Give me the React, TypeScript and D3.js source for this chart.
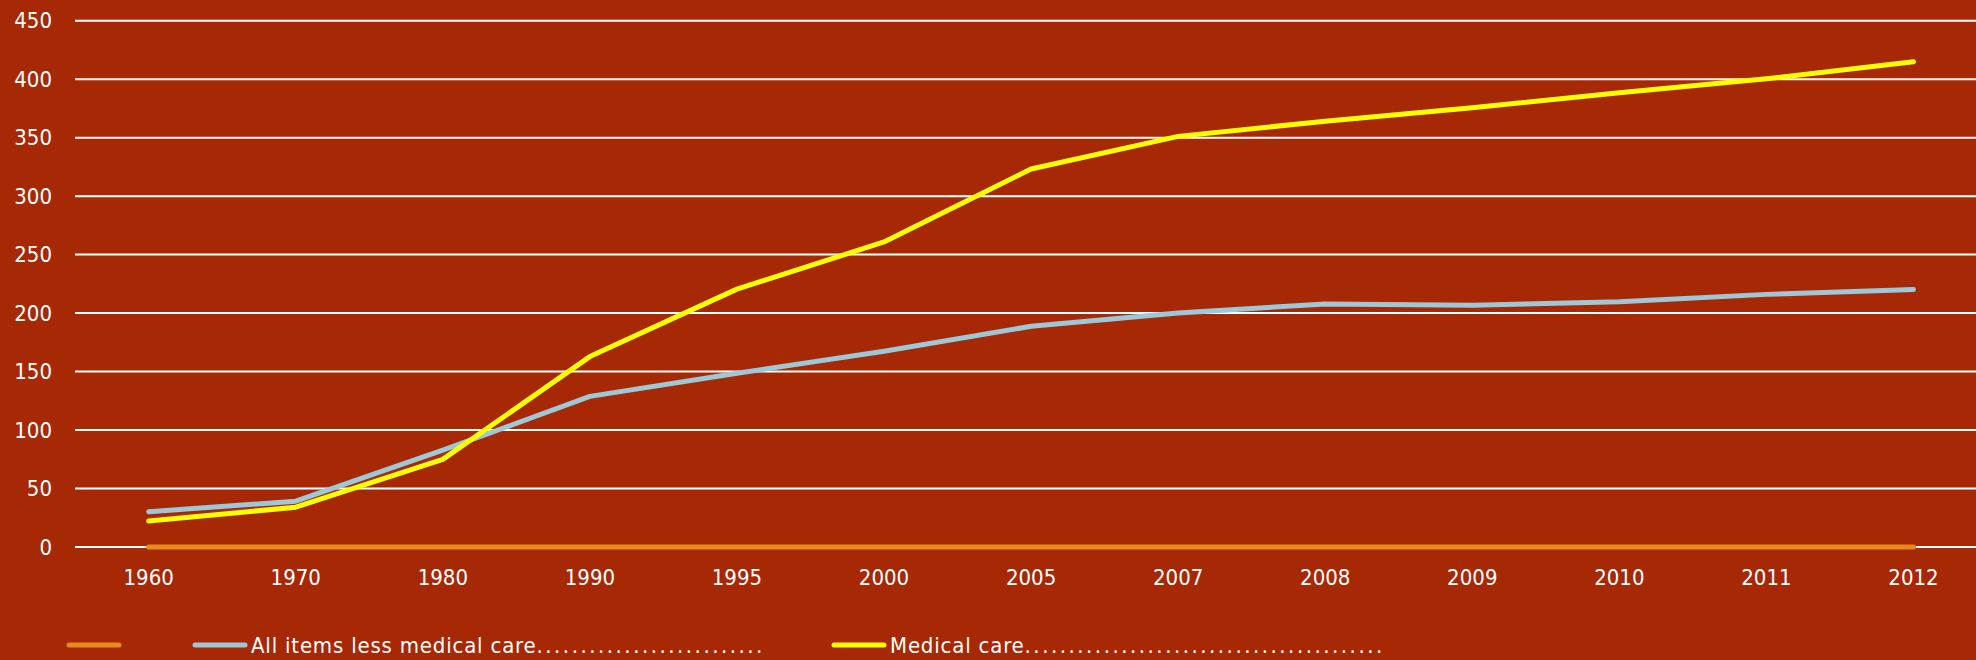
import React from "react";
import * as d3 from "d3";

const years = ["1960","1970","1980","1990","1995","2000","2005","2007","2008","2009","2010","2011","2012"];
const allItemsLessMedical = [30.2, 39.2, 82.8, 128.8, 148.6, 167.3, 188.7, 200.1, 207.8, 206.6, 209.7, 216.0, 220.2];
const medicalCare = [22.3, 34.0, 74.9, 162.8, 220.5, 260.8, 323.2, 351.1, 364.1, 375.6, 388.4, 400.3, 414.9];
const baseSeries = [0, 0, 0, 0, 0, 0, 0, 0, 0, 0, 0, 0, 0];
const yTicks = [0, 50, 100, 150, 200, 250, 300, 350, 400, 450];
const legendNames = ["", "All items less medical care", "Medical care"];
const legendDots = [0, 26, 41];

const W = 1976;
const H = 660;
const BG = "#A62805";
const FONT = "'DejaVu Sans Condensed', 'DejaVu Sans', sans-serif";

export default function App() {
  const x = d3.scalePoint<string>().domain(years).range([148.7, 1913.5]);
  const y = d3.scaleLinear().domain([0, 450]).range([547, 20.7]);
  const line = d3
    .line<number>()
    .x((_, i) => x(years[i]) as number)
    .y((d) => y(d));

  const series = [
    { values: baseSeries, color: "#E98A1A", lx: 67 },
    { values: allItemsLessMedical, color: "#9DC8D7", lx: 193 },
    { values: medicalCare, color: "#FFFF00", lx: 832 },
  ];

  return (
    <div style={{ position: "absolute", left: 0, top: 0 }}>
      <svg width={W} height={H} style={{ display: "block" }}>
        <rect x={0} y={0} width={W} height={H} fill={BG} />
        {yTicks.map((t) => (
          <g key={t}>
            <line x1={75} x2={W} y1={y(t)} y2={y(t)} stroke="#FFFFFF" strokeWidth={2} />
            <text
              x={52}
              y={y(t)}
              textAnchor="end"
              dominantBaseline="central"
              fill="#FFFFFF"
              fontFamily={FONT}
              fontSize={22}
            >
              {t}
            </text>
          </g>
        ))}
        {years.map((yr) => (
          <text
            key={yr}
            x={x(yr) as number}
            y={577}
            textAnchor="middle"
            dominantBaseline="central"
            fill="#FFFFFF"
            fontFamily={FONT}
            fontSize={22}
          >
            {yr}
          </text>
        ))}
        {series.map((s, i) => (
          <path
            key={i}
            d={line(s.values) || ""}
            fill="none"
            stroke={s.color}
            strokeWidth={5}
            strokeLinecap="round"
            strokeLinejoin="round"
          />
        ))}
        {series.map((s, i) => (
          <g key={"lg" + i}>
            <line
              x1={s.lx + 2}
              x2={s.lx + 52}
              y1={645}
              y2={645}
              stroke={s.color}
              strokeWidth={5}
              strokeLinecap="round"
            />
            {legendNames[i] && (
              <text
                x={s.lx + 58}
                y={645}
                dominantBaseline="central"
                fill="#FFFFFF"
                fontFamily={FONT}
                fontSize={22}
              >
                <tspan letterSpacing={0.8}>{legendNames[i]}</tspan>
                <tspan letterSpacing={2.5}>{".".repeat(legendDots[i])}</tspan>
              </text>
            )}
          </g>
        ))}
      </svg>
    </div>
  );
}
